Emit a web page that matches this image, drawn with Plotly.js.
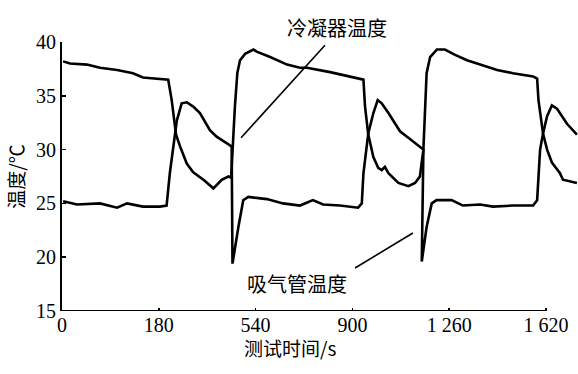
<!DOCTYPE html>
<html>
<head>
<meta charset="utf-8">
<script src="https://cdn.plot.ly/plotly-3.0.1.min.js"></script>
<style>html,body{margin:0;padding:0;background:#fff;}#chart{width:578px;height:374px;}</style>
</head>
<body>
<div id="chart"></div>
<script>
// time axis (s); the first labelled tick "0" sits one half-interval left of 180
const tickVals = [-180, 180, 540, 900, 1260, 1620];
const tickLabels = ['0', '180', '540', '900', '1 260', '1 620'];
const yTicks = [15, 20, 25, 30, 35, 40];

// 冷凝器温度 (condenser temperature)
const condT = [-176, -150, -87, -39, 25, 84, 121, 185, 215, 228, 244, 259, 284, 308, 346, 383, 414, 439, 449, 463, 472, 482, 501, 532, 544, 594, 657, 705, 731, 817, 873, 941, 947, 959, 978, 996, 1009, 1021, 1034, 1071, 1108, 1133, 1151, 1164, 1176, 1189, 1214, 1244, 1282, 1326, 1375, 1438, 1497, 1572, 1587, 1592, 1609, 1624, 1642, 1672, 1683, 1720, 1735];
const condY = [38.2, 38.0, 37.9, 37.6, 37.4, 37.1, 36.7, 36.6, 36.5, 34.6, 31.4, 30.3, 28.7, 27.9, 27.2, 26.4, 27.2, 27.5, 27.4, 34.0, 37.1, 38.3, 38.9, 39.3, 39.1, 38.6, 37.9, 37.6, 37.6, 37.2, 36.9, 36.5, 34.0, 31.4, 29.3, 28.3, 28.1, 28.4, 27.8, 26.9, 26.6, 26.9, 27.5, 30.0, 37.1, 38.6, 39.3, 39.3, 38.8, 38.3, 37.9, 37.4, 37.1, 36.8, 36.6, 34.6, 31.5, 30.0, 28.8, 27.8, 27.2, 27.0, 26.9];

// 吸气管温度 (suction pipe temperature)
const suctT = [-176, -124, -39, -2, 25, 62, 121, 184, 209, 221, 234, 247, 265, 284, 308, 333, 370, 395, 451, 454, 476, 494, 513, 556, 582, 642, 705, 753, 791, 854, 921, 935, 941, 959, 978, 994, 1009, 1034, 1077, 1108, 1164, 1158, 1176, 1195, 1213, 1269, 1294, 1311, 1375, 1423, 1497, 1572, 1587, 1598, 1609, 1624, 1642, 1661, 1698, 1735];
const suctY = [25.2, 24.9, 25.0, 24.8, 24.6, 25.0, 24.7, 24.7, 24.8, 27.8, 30.3, 32.7, 34.3, 34.4, 34.0, 33.4, 31.8, 31.2, 30.3, 19.4, 22.8, 25.3, 25.6, 25.5, 25.4, 25.0, 24.8, 25.3, 24.9, 24.8, 24.6, 25.0, 27.8, 31.5, 33.4, 34.6, 34.3, 33.4, 31.7, 31.1, 30.0, 19.6, 22.8, 25.0, 25.3, 25.3, 25.0, 24.8, 24.9, 24.7, 24.8, 24.8, 25.3, 30.0, 31.5, 33.1, 34.1, 33.8, 32.4, 31.4];

const condLabel = '冷凝器温度';
const suctLabel = '吸气管温度';

const lineStyle = {color: '#000', width: 2.6, shape: 'linear'};
const traces = [
  {x: condT, y: condY, mode: 'lines', line: lineStyle, name: condLabel, hoverinfo: 'skip'},
  {x: suctT, y: suctY, mode: 'lines', line: lineStyle, name: suctLabel, hoverinfo: 'skip'}
];

const serif = 'Liberation Serif, Times New Roman, serif';
const cjk = 'Noto Sans CJK SC, sans-serif';
const xMin = -180, xMax = 1739;
const px = v => (v - xMin) / (xMax - xMin);

const layout = {
  width: 578, height: 374,
  margin: {l: 62, r: 0, t: 42, b: 63},
  paper_bgcolor: '#fff', plot_bgcolor: '#fff',
  showlegend: false,
  xaxis: {
    range: [xMin, xMax], tickmode: 'array', tickvals: tickVals, ticktext: tickLabels,
    showline: false, showgrid: false, zeroline: false,
    ticks: 'inside', ticklen: 3, tickwidth: 1.5, tickcolor: '#000',
    tickfont: {family: serif, size: 20, color: '#000'}
  },
  yaxis: {
    range: [15, 40], tickmode: 'array', tickvals: yTicks,
    showline: true, linecolor: '#000', linewidth: 2,
    showgrid: false, zeroline: false,
    ticks: 'inside', ticklen: 4, tickwidth: 1.5, tickcolor: '#000',
    tickfont: {family: serif, size: 20, color: '#000'},
    title: {text: '温度/℃', font: {family: cjk, size: 19, color: '#000'}, standoff: 6}
  },
  shapes: [
    {type: 'line', xref: 'x', yref: 'y', x0: -180, x1: 1620, y0: 15, y1: 15, line: {color: '#000', width: 2}},
    {type: 'line', xref: 'x', yref: 'y', x0: 798, y0: 39.7, x1: 486, y1: 31.1, line: {color: '#000', width: 1.6}},
    {type: 'line', xref: 'x', yref: 'y', x0: 910, y0: 19.0, x1: 1125, y1: 22.25, line: {color: '#000', width: 1.6}}
  ],
  annotations: [
    {text: condLabel, xref: 'paper', yref: 'paper', x: px(843), y: 1, yanchor: 'middle', xanchor: 'center', yshift: 15, showarrow: false, font: {family: cjk, size: 20, color: '#000'}},
    {text: suctLabel, xref: 'x', yref: 'y', x: 694, y: 17.6, showarrow: false, font: {family: cjk, size: 20, color: '#000'}},
    {text: '测试时间/s', xref: 'paper', yref: 'paper', x: (290 - 62) / 516, y: 0, xanchor: 'center', yanchor: 'middle', yshift: -36, showarrow: false, font: {family: cjk, size: 19, color: '#000'}}
  ]
};

Plotly.newPlot('chart', traces, layout, {staticPlot: true, displayModeBar: false});
</script>
</body>
</html>
